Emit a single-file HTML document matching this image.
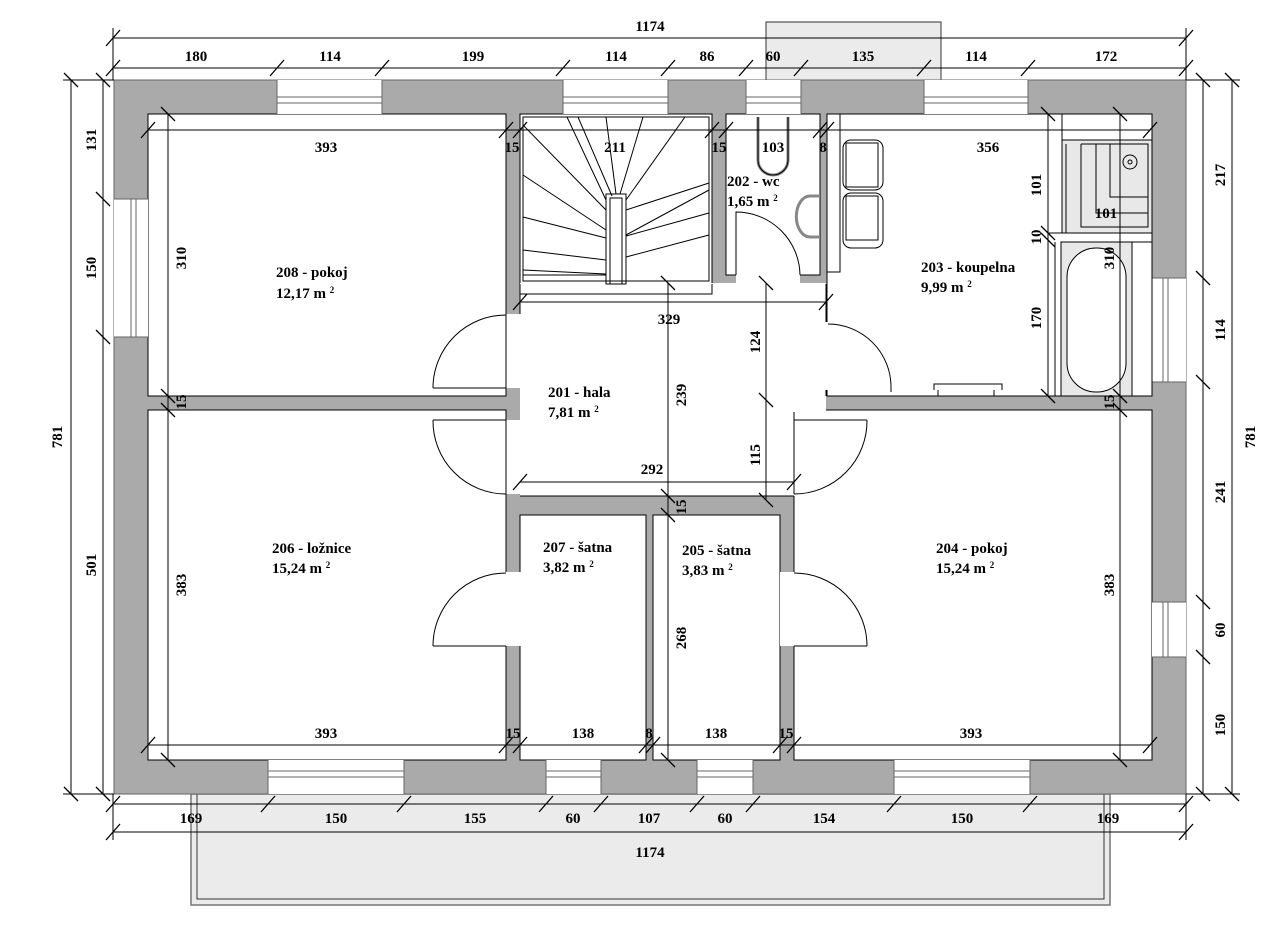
<!DOCTYPE html>
<html><head><meta charset="utf-8"><style>
html,body{margin:0;padding:0;background:#fff;}
svg{display:block;}
text{font-family:"Liberation Serif",serif;font-weight:bold;font-size:15px;fill:#000;}
</style></head><body>
<svg width="1275" height="934" viewBox="0 0 1275 934" xmlns="http://www.w3.org/2000/svg">
<rect x="766" y="22" width="175" height="58" fill="#ebebeb" stroke="#333" stroke-width="1"/>
<rect x="191" y="794" width="919" height="111" fill="#ebebeb" stroke="#777" stroke-width="1.5"/>
<rect x="197" y="794" width="907" height="105" fill="none" stroke="#333" stroke-width="1"/>
<rect x="114" y="80" width="1072" height="714" fill="#aaa" stroke="#666" stroke-width="1"/>
<g fill="#fff" stroke="#000" stroke-width="1">
<rect x="148" y="114" width="358" height="282"/>
<rect x="148" y="410" width="358" height="350"/>
<rect x="520" y="114" width="192" height="170"/>
<rect x="726" y="114" width="94" height="161"/>
<rect x="520" y="284" width="306" height="212" stroke="none"/>
<rect x="827" y="114" width="325" height="282"/>
<rect x="794" y="410" width="358" height="350"/>
<rect x="520" y="515" width="126" height="245"/>
<rect x="653" y="515" width="127" height="245"/>
</g>
<g fill="#fff" stroke="none">
<rect x="520" y="283" width="306" height="213"/>
<rect x="500" y="314" width="21" height="74"/>
<rect x="500" y="420" width="21" height="74"/>
<rect x="500" y="572" width="21" height="74"/>
<rect x="780" y="572" width="15" height="74"/>
<rect x="780" y="412" width="15" height="82"/>
<rect x="819" y="322" width="9" height="68"/>
<rect x="736" y="274" width="64" height="10"/>
<rect x="277" y="80" width="105" height="34"/>
<rect x="563" y="80" width="105" height="34"/>
<rect x="746" y="80" width="55" height="34"/>
<rect x="924" y="80" width="104" height="34"/>
<rect x="114" y="199" width="34" height="138"/>
<rect x="1152" y="278" width="34" height="104"/>
<rect x="1152" y="602" width="34" height="55"/>
<rect x="268" y="760" width="136" height="34"/>
<rect x="546" y="760" width="55" height="34"/>
<rect x="697" y="760" width="56" height="34"/>
<rect x="894" y="760" width="136" height="34"/>
</g>
<g stroke="#666" stroke-width="1" fill="none">
<path d="M277 97H382M277 103H382M563 97H668M563 103H668M746 97H801M746 103H801M924 97H1028M924 103H1028"/>
<path d="M131 199V337M136 199V337M1163 278V382M1168 278V382M1163 602V657M1168 602V657"/>
<path d="M268 771H404M268 777H404M546 771H601M546 777H601M697 771H753M697 777H753M894 771H1030M894 777H1030"/>
<path d="M277 80V114M382 80V114M563 80V114M668 80V114M746 80V114M801 80V114M924 80V114M1028 80V114M114 199H148M114 337H148M1152 278H1186M1152 382H1186M1152 602H1186M1152 657H1186M268 760V794M404 760V794M546 760V794M601 760V794M697 760V794M753 760V794M894 760V794M1030 760V794"/>
</g>
<g stroke="#000" stroke-width="1" fill="none">
<path d="M520 294H712V284M520 284V314M826 284V322M826 390V396M506 314V396M506 420V494M520 482H794M520 496H794M794 412V494"/>
<rect x="523" y="117" width="186" height="164"/>
<rect x="606" y="194" width="20" height="90"/>
<rect x="610" y="198" width="12" height="86"/>
<path d="M567 117L606 200M578 117L612 196M606 117L616 194M643 117L620 194M685 117L626 200M523 125L606 210M523 175L606 230M523 217L606 238M523 250L606 260M523 270L606 274M626 210L709 183M626 235L709 190M626 236L709 213M626 257L709 235M523 275H606"/>
<path d="M758 117V160A15 15 0 0 0 788 160V117" stroke-width="3" stroke="#888"/>
<path d="M758 117V160A15 15 0 0 0 788 160V117"/>
<path d="M820 196H810A12 18 0 0 0 810 237H820" stroke-width="3" stroke="#888"/>
<path d="M736 275V212A64 64 0 0 1 800 275"/>
<rect x="827" y="114" width="13" height="158"/>
<rect x="843" y="140" width="40" height="50" rx="8"/>
<rect x="846" y="143" width="32" height="44"/>
<rect x="843" y="193" width="40" height="55" rx="8"/>
<rect x="846" y="196" width="32" height="44"/>
<rect x="1062" y="114" width="90" height="26"/>
<rect x="1062" y="140" width="90" height="93" fill="#e8e8e8"/>
<path d="M1066 144V233M1081 144H1148V227H1081V144M1096 144V213H1148M1110 144V197H1148" fill="none"/>
<circle cx="1130" cy="162" r="7"/><circle cx="1130" cy="162" r="2"/>
<rect x="1061" y="242" width="71" height="154" fill="#e8e8e8"/>
<rect x="1132" y="242" width="20" height="154" fill="#fff"/>
<rect x="1067" y="248" width="59" height="144" rx="29" fill="#fff"/>
<path d="M1048 242V396M1055 242V396M1048 233H1062"/>
<path d="M934 390V384H1002V390M938 390V396M994 390V396"/>
<path d="M433 388H506M433 388A73 73 0 0 1 506 315"/>
<path d="M433 420H506M433 420A73 73 0 0 0 506 494"/>
<path d="M433 646H506M433 646A73 73 0 0 1 506 573"/>
<path d="M828 324A63 63 0 0 1 891 387V392"/>
<path d="M794 420H867M867 420A73 73 0 0 1 794 494"/>
<path d="M794 646H867M867 646A73 73 0 0 0 794 573"/>
</g>
<g stroke="#000" stroke-width="1" fill="none">
<path d="M113 38H1186M113 68H1186M113 28V80M1186 28V80"/>
<path d="M71 80V794M103 80V794M63 80H114M63 794H114"/>
<path d="M1203 80V794M1232 80V794M1186 80H1240M1186 794H1240"/>
<path d="M113 804H1186M113 832H1186M113 794V840M1186 794V840"/>
<path d="M148 130H1150M520 302H826M520 482H794M148 745H1150"/>
<path d="M168 114V760M668 283V760M766 283V500M1120 114V760M1048 114V396"/>
</g>
<g stroke="#000" stroke-width="1.3">
<path d="M106 46L120 30M106 76L120 60M270 76L284 60M375 76L389 60M556 76L570 60M661 76L675 60M739 76L753 60M794 76L808 60M917 76L931 60M1021 76L1035 60M1179 76L1193 60M1179 46L1193 30"/>
<path d="M64 73L78 87M64 787L78 801M96 73L110 87M96 192L110 206M96 330L110 344M96 787L110 801"/>
<path d="M1196 73L1210 87M1196 271L1210 285M1196 375L1210 389M1196 595L1210 609M1196 650L1210 664M1196 787L1210 801M1225 73L1239 87M1225 787L1239 801"/>
<path d="M106 812L120 796M261 812L275 796M397 812L411 796M539 812L553 796M594 812L608 796M690 812L704 796M746 812L760 796M887 812L901 796M1023 812L1037 796M1179 812L1193 796M106 840L120 824M1179 840L1193 824"/>
<path d="M141 138L155 122M499 138L513 122M513 138L527 122M705 138L719 122M719 138L733 122M813 138L827 122M820 138L834 122M1143 138L1157 122"/>
<path d="M513 310L527 294M819 310L833 294M513 490L527 474M787 490L801 474M141 753L155 737M499 753L513 737M513 753L527 737M639 753L653 737M646 753L660 737M773 753L787 737M787 753L801 737M1143 753L1157 737"/>
<path d="M161 107L175 121M161 389L175 403M161 403L175 417M161 753L175 767M661 276L675 290M661 489L675 503M661 508L675 522M661 753L675 767M759 276L773 290M759 393L773 407M759 493L773 507M1113 107L1127 121M1113 389L1127 403M1113 403L1127 417M1113 753L1127 767M1041 226L1055 240M1041 233L1055 247M1041 389L1055 403M1041 107L1055 121"/>
</g>
<g text-anchor="middle">
<text x="650" y="31">1174</text>
<text x="196" y="61">180</text><text x="330" y="61">114</text><text x="473" y="61">199</text><text x="616" y="61">114</text><text x="707" y="61">86</text><text x="773" y="61">60</text><text x="863" y="61">135</text><text x="976" y="61">114</text><text x="1106" y="61">172</text>
<text x="191" y="823">169</text><text x="336" y="823">150</text><text x="475" y="823">155</text><text x="573" y="823">60</text><text x="649" y="823">107</text><text x="725" y="823">60</text><text x="824" y="823">154</text><text x="962" y="823">150</text><text x="1108" y="823">169</text>
<text x="650" y="857">1174</text>
<text x="326" y="152">393</text><text x="512" y="152">15</text><text x="615" y="152">211</text><text x="719" y="152">15</text><text x="773" y="152">103</text><text x="823" y="152">8</text><text x="988" y="152">356</text>
<text x="669" y="324">329</text><text x="652" y="474">292</text><text x="1106" y="218">101</text>
<text x="326" y="738">393</text><text x="513" y="738">15</text><text x="583" y="738">138</text><text x="649" y="738">8</text><text x="716" y="738">138</text><text x="786" y="738">15</text><text x="971" y="738">393</text>
</g>
<g text-anchor="middle">
<text transform="translate(62,437) rotate(-90)">781</text>
<text transform="translate(96,140) rotate(-90)">131</text>
<text transform="translate(96,268) rotate(-90)">150</text>
<text transform="translate(96,565) rotate(-90)">501</text>
<text transform="translate(1225,175) rotate(-90)">217</text>
<text transform="translate(1225,330) rotate(-90)">114</text>
<text transform="translate(1225,492) rotate(-90)">241</text>
<text transform="translate(1225,630) rotate(-90)">60</text>
<text transform="translate(1225,725) rotate(-90)">150</text>
<text transform="translate(1255,437) rotate(-90)">781</text>
<text transform="translate(186,258) rotate(-90)">310</text>
<text transform="translate(186,402) rotate(-90)">15</text>
<text transform="translate(186,585) rotate(-90)">383</text>
<text transform="translate(686,395) rotate(-90)">239</text>
<text transform="translate(686,507) rotate(-90)">15</text>
<text transform="translate(686,638) rotate(-90)">268</text>
<text transform="translate(760,342) rotate(-90)">124</text>
<text transform="translate(760,455) rotate(-90)">115</text>
<text transform="translate(1041,185) rotate(-90)">101</text>
<text transform="translate(1041,237) rotate(-90)">10</text>
<text transform="translate(1041,318) rotate(-90)">170</text>
<text transform="translate(1114,258) rotate(-90)">310</text>
<text transform="translate(1114,402) rotate(-90)">15</text>
<text transform="translate(1114,585) rotate(-90)">383</text>
</g>
<text x="276" y="277">208 - pokoj</text><text x="276" y="298">12,17 m <tspan font-size="9" dy="-5">2</tspan></text>
<text x="548" y="397">201 - hala</text><text x="548" y="417">7,81 m <tspan font-size="9" dy="-5">2</tspan></text>
<text x="727" y="186">202 - wc</text><text x="727" y="206">1,65 m <tspan font-size="9" dy="-5">2</tspan></text>
<text x="921" y="272">203 - koupelna</text><text x="921" y="292">9,99 m <tspan font-size="9" dy="-5">2</tspan></text>
<text x="272" y="553">206 - ložnice</text><text x="272" y="573">15,24 m <tspan font-size="9" dy="-5">2</tspan></text>
<text x="543" y="552">207 - šatna</text><text x="543" y="572">3,82 m <tspan font-size="9" dy="-5">2</tspan></text>
<text x="682" y="555">205 - šatna</text><text x="682" y="575">3,83 m <tspan font-size="9" dy="-5">2</tspan></text>
<text x="936" y="553">204 - pokoj</text><text x="936" y="573">15,24 m <tspan font-size="9" dy="-5">2</tspan></text>
</svg>
</body></html>
